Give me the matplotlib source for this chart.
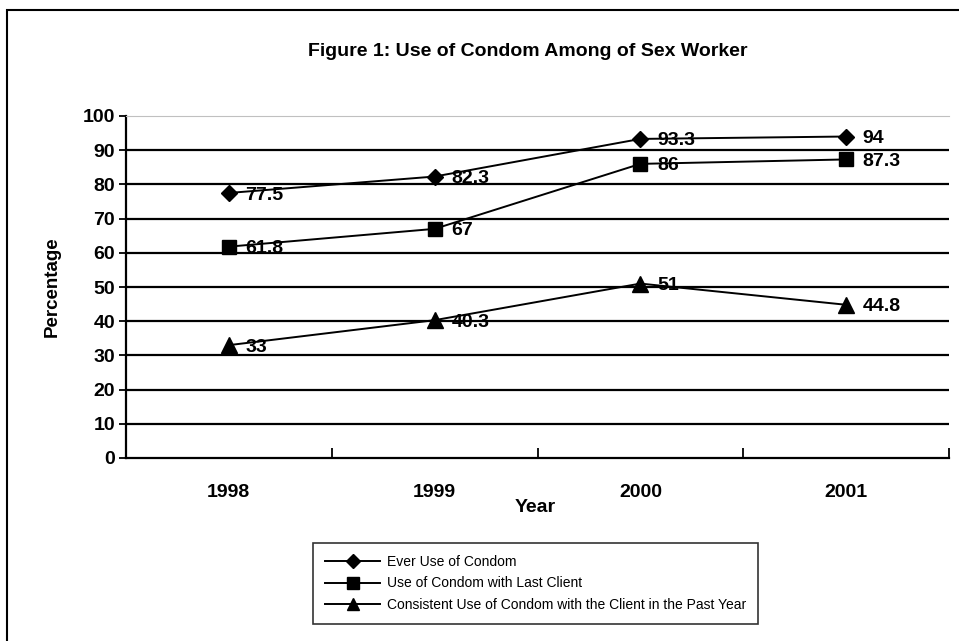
import numpy as np
import matplotlib.pyplot as plt
from matplotlib.patches import Rectangle

plt.rcParams['font.family'] = ['Liberation Sans', 'DejaVu Sans']

years = ['1998', '1999', '2000', '2001']
ever_use = [77.5, 82.3, 93.3, 94]
last_client = [61.8, 67, 86, 87.3]
consistent = [33, 40.3, 51, 44.8]

series = [
    [ever_use, 'D', 8, 'Ever Use of Condom'],
    [last_client, 's', 10, 'Use of Condom with Last Client'],
    [consistent, '^', 11, 'Consistent Use of Condom with the Client in the Past Year'],
]

W, H = 959, 641
fig = plt.figure(figsize=(W / 100, H / 100), dpi=100, facecolor='w')
ax = fig.add_axes([126 / W, 1 - 458 / H, (949 - 126) / W, (458 - 116) / H])

x = np.arange(len(years))
handles = []
for vals, mk, ms, name in series:
    h, = ax.plot(x, vals, color='k', lw=1.4, marker=mk, markersize=ms,
                 markerfacecolor='k', markeredgecolor='k', label=name)
    handles.append(h)
    for xi, v in zip(x, vals):
        ax.annotate(f'{v:g}', (xi, v), xytext=(12, -1.5), textcoords='offset points',
                    ha='left', va='center', fontsize=14, fontweight='bold')

ax.set_xlim(-0.5, 3.5)
ax.set_ylim(0, 100)
ax.set_yticks(range(0, 101, 10))
for yv in range(10, 100, 10):
    ax.axhline(yv, color='k', lw=1.6, zorder=0)
ax.set_xticks(x)
ax.set_xticklabels(years)
ax.set_xticks(np.arange(-0.5, 3.6, 1), minor=True)
ax.tick_params(axis='x', which='major', length=0, pad=19, labelsize=14)
ax.tick_params(axis='x', which='minor', direction='in', length=7, width=1.3)
ax.tick_params(axis='y', direction='out', length=5, width=1.3, labelsize=14, pad=3)
for lab in ax.get_xticklabels() + ax.get_yticklabels():
    lab.set_fontweight('bold')

ax.spines['right'].set_visible(False)
ax.spines['top'].set_color('#c0c0c0')
ax.spines['left'].set_linewidth(1.6)
ax.spines['bottom'].set_linewidth(1.6)

fig.text(52 / W, 1 - 287 / H, 'Percentage', ha='center', va='center', rotation=90,
         fontsize=13.5, fontweight='bold')
fig.text(535 / W, 1 - 508 / H, 'Year', ha='center', va='center',
         fontsize=14, fontweight='bold')
fig.text(528 / W, 1 - 52 / H, 'Figure 1: Use of Condom Among of Sex Worker',
         ha='center', va='center', fontsize=14, fontweight='bold')

leg = fig.legend(handles=handles, loc='upper left',
                 bbox_to_anchor=(313 / W, 1 - 543 / H), fontsize=10,
                 frameon=True, fancybox=False, edgecolor='k', handlelength=4.0,
                 handletextpad=0.45, borderpad=0.85, labelspacing=0.55,
                 markerscale=0.85, borderaxespad=0)
leg.get_frame().set_linewidth(1.2)

fig.patches.append(Rectangle((7 / W, -0.05), 1.1, 1 - 10 / H + 0.05,
                             transform=fig.transFigure, fill=False,
                             edgecolor='k', lw=1.5))

fig.savefig('out.png', dpi=100)
